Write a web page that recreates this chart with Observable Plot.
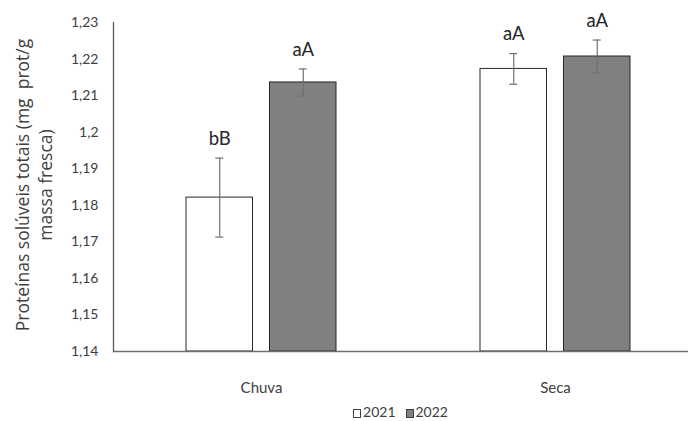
<!DOCTYPE html>
<html>
<head>
<meta charset="utf-8">
<script src="https://cdn.jsdelivr.net/npm/d3@7"></script>
<script src="https://cdn.jsdelivr.net/npm/@observablehq/plot@0.6"></script>
<style>
  html, body { margin: 0; padding: 0; background: #fff; }
  #chart { width: 690px; }
  .legend { width: 575px; margin-left: 113px; margin-top: 9px; text-align: center;
            font: 14px Lato, sans-serif; color: #404040; line-height: 16px; }
  .legend .item { display: inline-block; margin: 0 5px; }
  .legend .sw { display: inline-block; width: 8px; height: 9px; border: 1px solid #404040;
                vertical-align: -1px; margin-right: 2px; box-sizing: border-box; }
</style>
</head>
<body>
<div id="chart"></div>
<script>
// ---- data ----
const categories = ["Chuva", "Seca"];
const years = ["2021", "2022"];
const values2021 = [1.1821, 1.2173];
const values2022 = [1.2136, 1.2207];
const errors2021 = [0.0108, 0.0042];
const errors2022 = [0.0037, 0.0045];
const letters2021 = ["bB", "aA"];
const letters2022 = ["aA", "aA"];
const yTicks = [1.14, 1.15, 1.16, 1.17, 1.18, 1.19, 1.20, 1.21, 1.22, 1.23];
const yTitle = "Proteínas solúveis totais (mg  prot/g\nmassa fresca)";
const yearColors = ["#ffffff", "#808080"];

// ---- table ----
const rows = [];
categories.forEach((c, i) => {
  rows.push({cat: c, year: years[0], value: values2021[i], err: errors2021[i], letter: letters2021[i]});
  rows.push({cat: c, year: years[1], value: values2022[i], err: errors2022[i], letter: letters2022[i]});
});

const locale = d3.formatLocale({decimal: ",", thousands: ".", grouping: [3]});
const fmt = locale.format(".2~f");
const yMin = yTicks[0], yMax = yTicks[yTicks.length - 1];

// group layout (styling): each category band holds two bars side by side
const bandW = 150, barW = 66.5, capW = 8;
const shift = (bandW - barW) / 2;   // offset of a bar centre from the band centre

const marks = [
  Plot.axisX({tickSize: 0, tickPadding: 31, label: null, fontSize: 15}),
  Plot.axisY({ticks: yTicks, tickSize: 0, tickPadding: 15, tickFormat: fmt, label: null, fontSize: 14}),
];
years.forEach((yr, j) => {
  const data = rows.filter(d => d.year === yr);
  const sgn = j === 0 ? -1 : 1;
  marks.push(
    Plot.barY(data, {x: "cat", y1: yMin, y2: "value", fill: "year", stroke: "#262626", strokeWidth: 1,
      insetLeft: j === 0 ? 0 : bandW - barW, insetRight: j === 0 ? bandW - barW : 0}),
    Plot.ruleX(data, {x: "cat", y1: d => d.value - d.err, y2: d => d.value + d.err, dx: sgn * shift,
      stroke: "#707070", strokeWidth: 1.2}),
    Plot.tickY(data, {x: "cat", y: d => d.value - d.err, dx: sgn * shift, stroke: "#707070", strokeWidth: 1.2,
      insetLeft: (bandW - capW) / 2, insetRight: (bandW - capW) / 2}),
    Plot.tickY(data, {x: "cat", y: d => d.value + d.err, dx: sgn * shift, stroke: "#707070", strokeWidth: 1.2,
      insetLeft: (bandW - capW) / 2, insetRight: (bandW - capW) / 2}),
    Plot.text(data, {x: "cat", y: d => d.value + d.err, text: "letter", dx: sgn * shift, dy: -19,
      fontSize: 18.5, fill: "#262626"})
  );
});
marks.push(
  Plot.ruleY([yMin], {stroke: "#6e6e6e", strokeWidth: 1.3}),
  Plot.frame({anchor: "left", stroke: "#595959", strokeWidth: 1.3}),
  Plot.text([yTitle], {frameAnchor: "left", rotate: -90, dx: -80, dy: -2, textAnchor: "middle", lineAnchor: "middle",
    fontSize: 17.5, fontFamily: "'Open Sans', sans-serif", fill: "#404040", lineHeight: 1.3})
);

const chart = Plot.plot({
  width: 690,
  height: 395,
  marginLeft: 113,
  marginRight: 2,
  marginTop: 22,
  marginBottom: 44,
  style: {fontFamily: "Lato, sans-serif", fontSize: "14px", color: "#404040", background: "#fff"},
  x: {domain: categories, paddingInner: 0.49, paddingOuter: 0.2228, align: 0.557, label: null},
  y: {domain: [yMin, yMax]},
  color: {domain: years, range: yearColors},
  marks
});
document.getElementById("chart").appendChild(chart);

const legend = document.createElement("div");
legend.className = "legend";
legend.innerHTML = years.map((y, i) =>
  `<span class="item"><span class="sw" style="background:${yearColors[i]}"></span>${y}</span>`).join("");
document.getElementById("chart").appendChild(legend);
</script>
</body>
</html>
